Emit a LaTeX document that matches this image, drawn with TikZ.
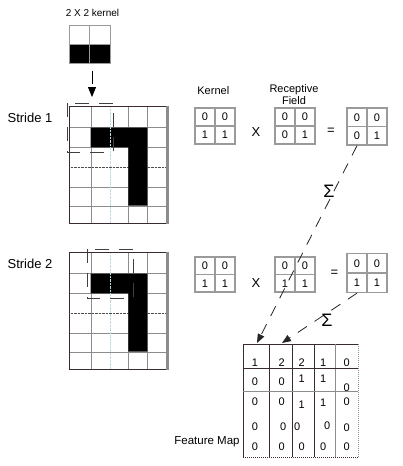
\documentclass[tikz,border=0pt]{standalone}
\usepackage{fontspec}
\setmainfont{Liberation Sans}
\usetikzlibrary{arrows.meta}
\definecolor{gridgray}{HTML}{8C8C8C}
\definecolor{edgedark}{HTML}{3C2A32}
\definecolor{cellgray}{HTML}{9A9A9A}
\definecolor{dotblue}{HTML}{C0D8E4}
\tikzset{
	cellbox/.style={draw=cellgray,line width=1.3pt,fill=white,minimum width=20pt,inner sep=0pt,font=\fontsize{11}{11}\selectfont},
	window/.style={draw=black!75,line width=0.9pt,dash pattern=on 14pt off 10pt},
	sumline/.style={draw=black!85,line width=0.8pt,dash pattern=on 11pt off 9pt,-{Triangle[width=7pt,length=9pt]}},
	stridetext/.style={font=\fontsize{13}{13}\selectfont},
	smalltext/.style={font=\fontsize{11}{12.5}\selectfont,align=center},
	fmval/.style={font=\fontsize{11}{11}\selectfont,inner sep=0pt},
	sigma/.style={font=\fontsize{18}{18}\selectfont,inner sep=0pt}
}
\begin{document}
\begin{tikzpicture}[x=1pt,y=-1pt]
	\useasboundingbox (0,0) rectangle (403,466);

	% kernel on top
	\fill (69,44) rectangle (110,63);
	\node[draw=cellgray,line width=1pt,minimum width=41pt,minimum height=38pt,inner sep=0pt] (kern) at (89.5,44) {};
	\draw[cellgray] (kern.west) -- (kern.east);
	\draw[cellgray,line width=0.8pt] (kern.north) -- (kern.south);
	\node[smalltext,font=\fontsize{10}{10}\selectfont] (kernlbl) at (92.5,12.5) {2 X 2 kernel};
	\coordinate (win1) at (92,97);
	\draw[line width=0.9pt,dash pattern=on 13pt off 3pt,-{Triangle[width=8pt,length=10pt]}] ([xshift=2.5pt,yshift=-7pt]kern.south) -- (win1);

	% the two input grids
	\foreach \gy/\wx in {106/67, 252/87}{
		\foreach \c in {90.7,128.3,147.3} \draw[gridgray] (\c,\gy) -- (\c,\gy+117.5);
		\foreach \r in {21.5,41.3,81.5,99.7} \draw[gridgray] (69.3,\gy+\r) -- (167.3,\gy+\r);
		\draw[black!70,densely dotted] (69.3,\gy+61.5) -- (167.3,\gy+61.5);
		\fill (90.7,\gy+21.5) rectangle (147.3,\gy+41.3) (128.3,\gy+21.5) rectangle (147.3,\gy+99.7);
		\draw[dotblue,densely dotted] (110,\gy) -- (110,\gy+117.5);
		\draw[edgedark,line width=1pt] (167.3,\gy) -- (69.3,\gy) -- (69.3,\gy+117.5) -- (167.3,\gy+117.5);
		\draw[gridgray,line width=2.5pt] (167.3,\gy) -- (167.3,\gy+117.5);
		\draw[window] (\wx,\gy-3) rectangle (\wx+46,\gy+46);
	}
	\node[stridetext] (s1) at (30,118) {Stride 1};
	\node[stridetext] (s2) at (30,264) {Stride 2};

	% kernel x receptive field = product
	\node[smalltext] (kernhead) at (213.3,90.7) {Kernel};
	\node[smalltext] (fieldhead) at (294,94.5) {Receptive\\Field};
	\foreach \mx/\my/\ch/\a/\b/\c/\d [count=\i] in {
			195/108/18/0/0/1/1,
			275/108/18/0/0/0/1,
			347/108/18.5/0/0/0/1,
			195/257/17.5/0/0/1/1,
			275/257/17.5/0/0/1/1,
			347/253.5/19.5/0/0/1/1
		}{
		\node[cellbox,minimum height=\ch pt] (m\i-a) at (\mx+10,\my+\ch/2) {\a};
		\node[cellbox,minimum height=\ch pt] (m\i-b) at (\mx+30,\my+\ch/2) {\b};
		\node[cellbox,minimum height=\ch pt] (m\i-c) at (\mx+10,\my+1.5*\ch) {\c};
		\node[cellbox,minimum height=\ch pt] (m\i-d) at (\mx+30,\my+1.5*\ch) {\d};
	}
	\node[stridetext] (times1) at (256,132.3) {X};
	\node[stridetext] (eq1) at (331,131) {=};
	\node[stridetext] (times2) at (256,283.3) {X};
	\node[stridetext] (eq2) at (334.3,273.3) {=};

	% feature map
	\draw[edgedark,line width=1pt] (243.3,457.3) -- (243.3,344) -- (358.3,344);
	\draw[edgedark,line width=1pt,densely dotted] (243.3,457.3) -- (358.3,457.3);
	\draw[gridgray,line width=1pt,densely dotted] (358.3,344) -- (358.3,457.3);
	\foreach \c in {269.3,292.3,314} \draw[edgedark,line width=0.8pt] (\c,344) -- (\c,457.3);
	\draw[gridgray] (335,344) -- (335,457.3);
	\draw[edgedark,line width=0.8pt] (243.3,368) -- (358.3,368);
	\draw[gridgray] (243.3,391.3) -- (358.3,391.3);
	\foreach \vx/\vy/\v [count=\k] in {
			255/363/1, 281.7/363/2, 301.7/363/2, 323.3/363/1, 346.7/363/0,
			255/381.3/0, 281.7/381.3/0, 301.7/378.7/1, 323.3/378.7/1, 346.7/388/0,
			255/401.3/0, 281.7/401.3/0, 301.7/404.7/1, 323.3/403/1, 346.7/401.3/0,
			255/426.3/0, 283.3/426.3/0, 297.3/426.3/0, 327.3/425.3/0, 346.7/428/0,
			255/446.3/0, 281.7/446.3/0, 301.7/446.3/0, 323.3/446.3/0, 346.7/446.3/0
		}
	\node[fmval] (fv\k) at (\vx,\vy) {\v};
	\node[smalltext,font=\fontsize{11.5}{11.5}\selectfont] (fmlbl) at (207,441.7) {Feature Map};

	% sums into the feature map
	\coordinate (fm1) at (257,343);
	\coordinate (fm2) at (282,343);
	\draw[sumline] (m3-c.south) -- node[sigma,pos=0.23,xshift=-5pt] (sig1) {Σ} (fm1);
	\draw[sumline] (m6-c.south) -- node[sigma,pos=0.4,yshift=-7pt] (sig2) {Σ} (fm2);
\end{tikzpicture}
\end{document}
